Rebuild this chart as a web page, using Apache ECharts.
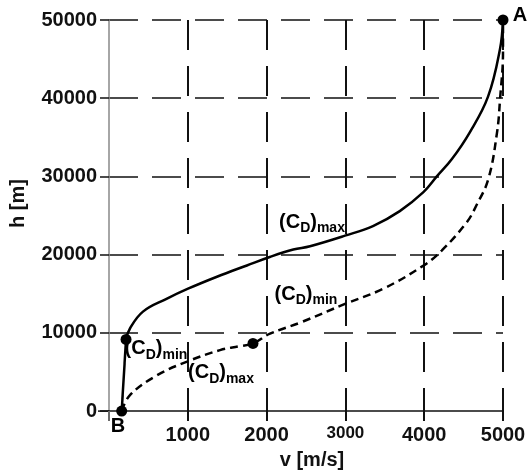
<!DOCTYPE html>
<html>
<head>
<meta charset="utf-8">
<script src="https://cdn.jsdelivr.net/npm/echarts@6/dist/echarts.min.js"></script>
<style>html,body{margin:0;padding:0;background:#fff;}#c{width:531px;height:475px;}</style>
</head>
<body>
<div id="c"></div>
<script>
// tick values
const vTicks = [0, 1000, 2000, 3000, 4000, 5000];
const hTicks = [0, 10000, 20000, 30000, 40000, 50000];
// solid path: straight part B -> point, then (C_D)max curve up to A
const solidStraight = [[161, 0], [216, 9160]];
const solidCurve = [[216, 9160], [266, 10560], [431, 12720], [736, 14380], [1003, 15650], [1370, 17180], [1750, 18620], [2040, 19700], [2339, 20650], [2551, 21080], [2995, 22430], [3350, 23660], [3690, 25570], [3990, 27990], [4160, 30000], [4349, 32190], [4575, 35580], [4810, 40200], [4962, 46300], [5000, 50000]];
// dashed path from B to A
const dashedCurve = [[161, 0], [266, 2040], [610, 4580], [1000, 6360], [1409, 7800], [1662, 8300], [1827, 8650], [2043, 9900], [2424, 11300], [2995, 13700], [3480, 15650], [3985, 18570], [4222, 20520], [4539, 24130], [4660, 26250], [4813, 29640], [4924, 35600], [4962, 39800], [5000, 46000], [5000, 50000]];
// marked points
const markedPoints = [[161, 0], [216, 9160], [1827, 8650], [5000, 50000]];
// text annotations [v, h, text-key]
const annotations = [
  [2576, 23920, 'max'],
  [2500, 14760, 'min'],
  [596, 7760, 'min'],
  [1421, 4710, 'max'],
  [5216, 50380, 'A'],
  [115, -2160, 'B']
];

const FONT = '"Liberation Sans", Arial, sans-serif';
const chart = echarts.init(document.getElementById('c'), null, {renderer: 'canvas'});

const rich = {
  b: {fontSize: 20, fontWeight: 'bold', fontFamily: FONT, color: '#000', verticalAlign: 'bottom', padding: [0, 0, 3, 0], textBorderWidth: 0},
  s: {fontSize: 14, fontWeight: 'bold', fontFamily: FONT, color: '#000', verticalAlign: 'bottom', textBorderWidth: 0}
};

const option = {
  animation: false,
  grid: {left: 109, right: 28, top: 20, bottom: 62},
  xAxis: {
    type: 'value', min: 0, max: 5000, interval: 1000,
    name: 'v [m/s]', nameLocation: 'middle', nameGap: 34,
    nameTextStyle: {fontSize: 20, fontWeight: 'bold', fontFamily: FONT, color: '#111', padding: [0, 0, 0, 12]},
    axisLine: {show: true, onZero: false, lineStyle: {color: '#111', width: 1.5}},
    axisTick: {show: true, length: 10, lineStyle: {color: '#111', width: 2}},
    axisLabel: {
      margin: 14, fontSize: 20, fontWeight: 'bold', fontFamily: FONT, color: '#111',
      formatter: function (v) { return v === 0 ? '' : (v === 3000 ? '{s|' + v + '}' : '' + v); },
      rich: {s: {fontSize: 17, fontWeight: 'bold', fontFamily: FONT, color: '#111', padding: [0, 0, 5, 0]}}
    },
    splitLine: {show: true, showMinLine: false, lineStyle: {color: '#111', width: 2, type: [30, 16]}}
  },
  yAxis: {
    type: 'value', min: 0, max: 50000, interval: 10000,
    name: 'h [m]', nameLocation: 'middle', nameGap: 81, nameRotate: 90,
    nameTextStyle: {fontSize: 20, fontWeight: 'bold', fontFamily: FONT, color: '#111', padding: [0, 0, 0, 24]},
    axisLine: {show: true, onZero: false, lineStyle: {color: '#888', width: 1.5}},
    axisTick: {show: true, length: 9, lineStyle: {color: '#111', width: 1.5}},
    axisLabel: {margin: 12, fontSize: 20, fontWeight: 'bold', fontFamily: FONT, color: '#111',
      formatter: function (v) { return String(v); }},
    splitLine: {show: true, showMinLine: false, lineStyle: {color: '#111', width: 1.5, type: [29, 14]}}
  },
  series: [
    {type: 'line', data: solidStraight, symbol: 'none', lineStyle: {color: '#000', width: 2.5}, z: 5},
    {type: 'line', data: solidCurve, symbol: 'none', smooth: 0.4, lineStyle: {color: '#000', width: 2.5}, z: 5},
    {type: 'line', data: dashedCurve, symbol: 'none', smooth: 0.4, lineStyle: {color: '#000', width: 2.5, type: [8, 5]}, z: 5},
    {type: 'scatter', data: markedPoints, symbol: 'circle', symbolSize: 11, itemStyle: {color: '#000', opacity: 1}, z: 6},
    {
      type: 'scatter', data: annotations, symbolSize: 0, z: 7, clip: false,
      itemStyle: {opacity: 1, color: '#000'},
      label: {
        show: true, position: 'inside', rich: rich, color: '#000', textBorderWidth: 0, opacity: 1,
        formatter: function (p) {
          const k = p.data[2];
          if (k === 'A' || k === 'B') return '{b|' + k + '}';
          return '{b|(C}{s|D}{b|)}{s|' + k + '}';
        }
      }
    }
  ]
};
chart.setOption(option);

// axis stubs: x axis line extends left of the y axis, y axis line extends below the x axis
const o = chart.convertToPixel({gridIndex: 0}, [0, 0]);
chart.setOption({
  graphic: [
    {type: 'line', shape: {x1: o[0] - 11, y1: o[1], x2: o[0], y2: o[1]}, style: {stroke: '#111', lineWidth: 1.5}, z: 10},
    {type: 'line', shape: {x1: o[0], y1: o[1], x2: o[0], y2: o[1] + 10}, style: {stroke: '#888', lineWidth: 1.5}, z: 10}
  ]
});
</script>
</body>
</html>
